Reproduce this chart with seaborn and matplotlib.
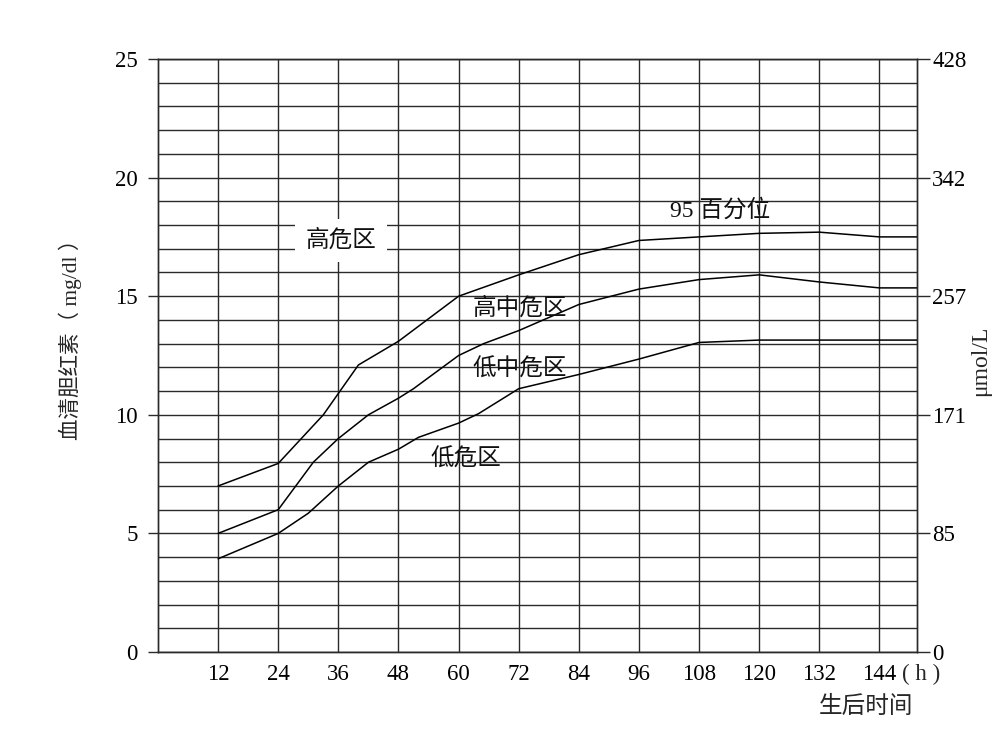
import numpy as np
import pandas as pd
import matplotlib
matplotlib.use("Agg")
import matplotlib.pyplot as plt
import seaborn as sns

# ---------------- data ----------------
hour_ticks = [12, 24, 36, 48, 60, 72, 84, 96, 108, 120, 132, 144]
mgdl_ticks = [0, 5, 10, 15, 20, 25]
umol_labels = ["0", "85", "171", "257", "342", "428"]

p95_hours = [12, 24, 33, 40, 48, 60, 72, 84, 96, 108, 120, 132, 144, 151.5]
p95_vals = [7.0, 7.95, 10.0, 12.1, 13.1, 15.0, 15.9, 16.75, 17.35, 17.5, 17.65, 17.7, 17.5, 17.5]

p75_hours = [12, 24, 31, 36, 42, 48, 51, 60, 65, 72, 84, 96, 108, 120, 132, 144, 151.5]
p75_vals = [5.0, 6.0, 8.0, 9.0, 10.0, 10.7, 11.1, 12.5, 13.0, 13.55, 14.65, 15.3, 15.7, 15.9, 15.6, 15.35, 15.35]

p40_hours = [12, 24, 30, 36, 42, 48, 52, 60, 64, 72, 84, 96, 108, 120, 151.5]
p40_vals = [3.93, 5.0, 5.85, 7.0, 8.0, 8.55, 9.05, 9.65, 10.05, 11.1, 11.7, 12.35, 13.05, 13.15, 13.15]

zone_labels = ["高危区", "高中危区", "低中危区", "低危区", "95 百分位"]
zone_x = [36.5, 72.2, 72.2, 61.5, 112.2]
zone_y = [17.35, 14.5, 11.9, 8.1, 18.6]

df = pd.concat([
    pd.DataFrame({"hours": p95_hours, "value": p95_vals, "curve": "p95"}),
    pd.DataFrame({"hours": p75_hours, "value": p75_vals, "curve": "p75"}),
    pd.DataFrame({"hours": p40_hours, "value": p40_vals, "curve": "p40"}),
])

# ---------------- style ----------------
sns.set_theme(style="white")
FAM = ["Liberation Serif", "Noto Sans CJK SC"]
plt.rcParams["font.family"] = FAM
plt.rcParams["axes.unicode_minus"] = False

W, H = 1008, 738
fig = plt.figure(figsize=(W / 100, H / 100), dpi=100)
left_px, right_px, top_px, bot_px = 158, 917, 59, 652
ax = fig.add_axes([left_px / W, 1 - bot_px / H, (right_px - left_px) / W, (bot_px - top_px) / H])

GRID_C = "#2a2a2a"
sns.lineplot(data=df, x="hours", y="value", units="curve", estimator=None,
             color="black", linewidth=1.1, ax=ax, zorder=3)

ax.set_xlim(0, 151.5)
ax.set_ylim(0, 25)

# grid
ax.set_xticks(hour_ticks)
ax.set_xticklabels([str(h) for h in hour_ticks])
ax.set_yticks(mgdl_ticks)
ax.set_yticks(np.arange(0, 26, 1), minor=True)
ax.grid(True, which="both", axis="y", color=GRID_C, linewidth=1.0)
ax.grid(True, which="major", axis="x", color=GRID_C, linewidth=1.0)
ax.set_axisbelow(True)

for s in ax.spines.values():
    s.set_color(GRID_C)
    s.set_linewidth(1.0)

ax.tick_params(axis="x", which="both", length=0, pad=9, labelsize=16.5, colors="black")
ax.tick_params(axis="y", which="major", length=7.5, width=1.0, direction="out",
               pad=7, labelsize=16.5, color=GRID_C, labelcolor="black")
ax.tick_params(axis="y", which="minor", length=0)
ax.set_xlabel("")
ax.set_ylabel("")

# right axis
ax2 = ax.twinx()
ax2.set_ylim(0, 25)
ax2.set_yticks(mgdl_ticks)
ax2.set_yticklabels(umol_labels)
ax2.tick_params(axis="y", which="major", length=9.4, width=1.0, direction="out",
                pad=1.5, labelsize=16.5, color=GRID_C, labelcolor="black")
for s in ax2.spines.values():
    s.set_color(GRID_C)
    s.set_linewidth(1.0)
ax2.grid(False)

# zone labels
for i, (lab, x, y) in enumerate(zip(zone_labels, zone_x, zone_y)):
    kw = dict(ha="center", va="center", fontsize=17, family=FAM, color="#111111", zorder=5)
    if i == 0:
        kw["bbox"] = dict(boxstyle="square,pad=0.45", facecolor="white", edgecolor="none")
    ax.text(x, y, lab, **kw)

# unit after last x tick
ax.annotate("( h )", xy=(hour_ticks[-1], 0), xycoords="data",
            xytext=(23, -22), textcoords="offset pixels",
            ha="left", va="center", fontsize=16.5, family=FAM)

# axis titles
fig.text(866 / W, 1 - 707 / H, "生后时间", ha="center", va="center", fontsize=17, family=FAM)
fig.text(70 / W, 1 - 334 / H, "血清胆红素（ mg/dl ）", rotation=90, ha="center", va="center",
         fontsize=15.5, family=FAM)
fig.text(981 / W, 1 - 361 / H, "μmol/L", rotation=90, ha="center", va="center",
         fontsize=17, family=FAM)

fig.savefig("out.png", dpi=100, facecolor="white")
